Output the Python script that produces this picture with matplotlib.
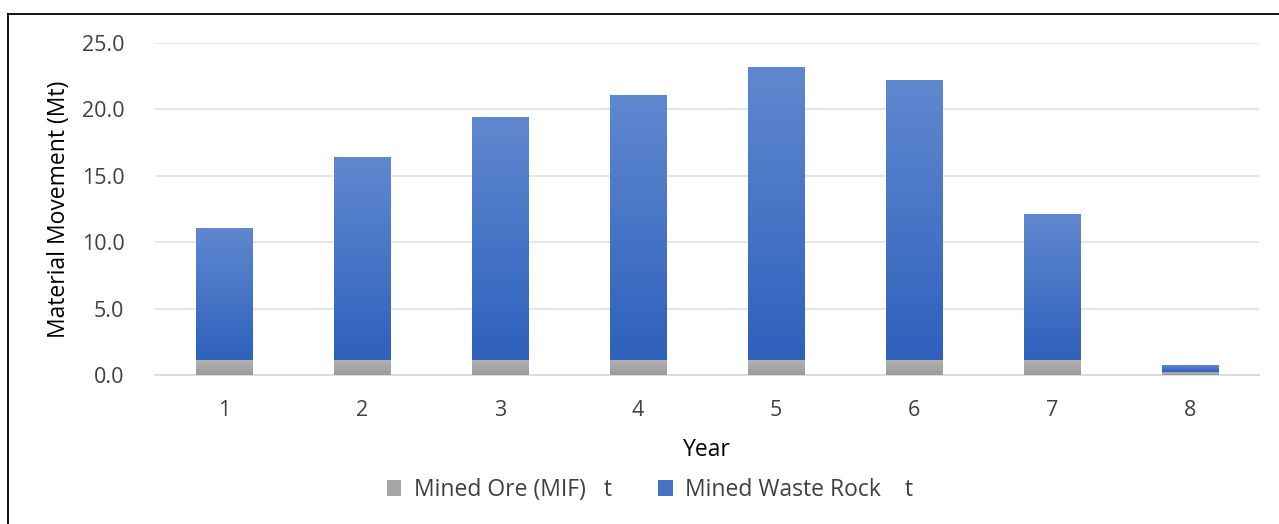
import numpy as np
import matplotlib
matplotlib.use('Agg')
import matplotlib.pyplot as plt
from matplotlib.patches import Patch
from matplotlib.lines import Line2D
from matplotlib.colors import LinearSegmentedColormap

plt.rcParams['font.family'] = ['Open Sans', 'DejaVu Sans']

# Daten
years = ['1', '2', '3', '4', '5', '6', '7', '8']
ore = [1.15, 1.15, 1.15, 1.15, 1.15, 1.15, 1.15, 0.25]
waste = [9.95, 15.25, 18.25, 19.95, 22.05, 21.05, 10.95, 0.5]
y_ticks = [0, 5, 10, 15, 20, 25]

blue_grad = LinearSegmentedColormap.from_list('blue', ['#2e61bd', '#6088cf'])
gray_grad = LinearSegmentedColormap.from_list('gray', ['#9b9b9b', '#b3b3b3'])

fig = plt.figure(figsize=(12.79, 5.24), dpi=100)
ax = fig.add_axes([0.1212, 0.2844, 0.8632, 0.6336])

x = np.arange(len(years))
w = 0.413
bars_ore = ax.bar(x, ore, width=w, color='none', edgecolor='none', zorder=3)
bars_waste = ax.bar(x, waste, width=w, bottom=ore, color='none', edgecolor='none', zorder=3)

# Farbverlauf pro Balken
grad = np.linspace(0, 1, 256).reshape(-1, 1)
for bars, cmap in [(bars_ore, gray_grad), (bars_waste, blue_grad)]:
    for b in bars:
        x0, y0 = b.get_x(), b.get_y()
        im = ax.imshow(grad, cmap=cmap, origin='lower', aspect='auto',
                       extent=[x0, x0 + b.get_width(), y0, y0 + b.get_height()],
                       zorder=3)
        im.set_clip_path(b)

ax.set_xlim(-0.5, len(years) - 0.5)
ax.set_ylim(0, 25)
ax.set_xticks(x)
ax.set_xticklabels(years)
ax.set_yticks(y_ticks)
ax.set_yticklabels(['%.1f' % v for v in y_ticks])

ax.grid(axis='y', color='#e3e6eb', linewidth=1.4, zorder=0)
ax.set_axisbelow(True)
for s in ['top', 'right', 'left']:
    ax.spines[s].set_visible(False)
ax.spines['bottom'].set_color('#d9dce2')
ax.spines['bottom'].set_linewidth(1.4)
ax.tick_params(axis='both', length=0, labelsize=15.5, labelcolor='#404040')
ax.tick_params(axis='y', pad=22)
ax.tick_params(axis='x', pad=18)

ax.set_xlabel('Year', fontsize=16.5, color='black', fontweight='medium', labelpad=12)
ax.set_ylabel('Material Movement (Mt)', fontsize=16.5, color='black', fontweight='medium', labelpad=8)

handles = [Patch(facecolor='#a5a5a5', edgecolor='none'),
           Patch(facecolor='#4472c4', edgecolor='none')]
fig.legend(handles, ['Mined Ore (MIF)   t', 'Mined Waste Rock    t'],
           loc='center', bbox_to_anchor=(650 / 1279, 1 - 490 / 524), ncol=2,
           frameon=False, fontsize=16.5, labelcolor='#404040',
           handlelength=0.65, handleheight=0.65, handletextpad=0.55,
           columnspacing=2.0)

# Rahmen (nur oben und links sichtbar)
fx = 8 / 1279
fy = 1 - 14 / 524
fig.add_artist(Line2D([fx, fx], [0, fy], color='black', linewidth=1.3, transform=fig.transFigure))
fig.add_artist(Line2D([fx, 1], [fy, fy], color='black', linewidth=1.3, transform=fig.transFigure))

fig.savefig('out.png', dpi=100)
